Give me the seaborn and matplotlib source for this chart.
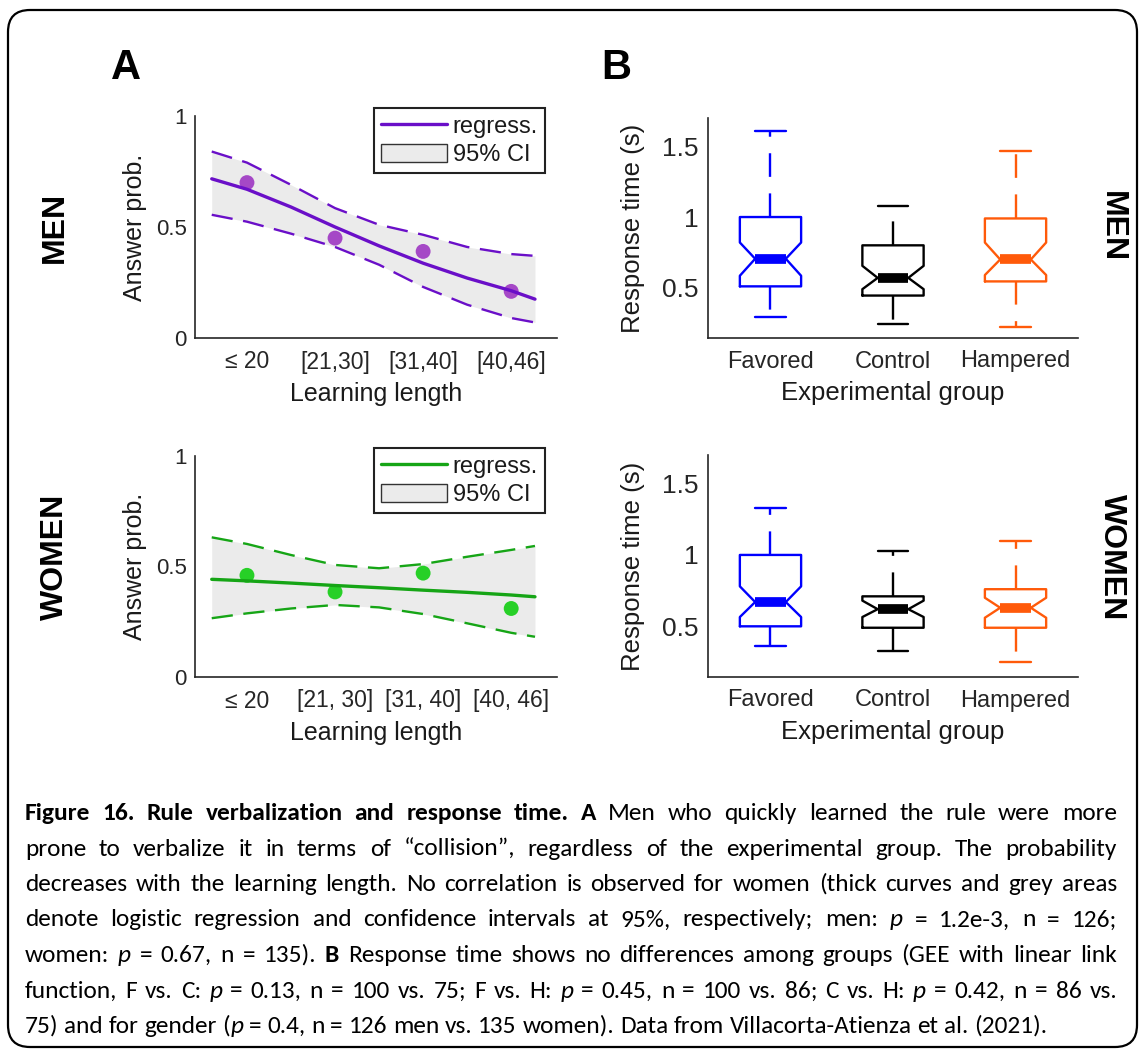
import matplotlib
matplotlib.use("Agg")
import matplotlib.pyplot as plt
import seaborn as sns
from matplotlib.lines import Line2D
from matplotlib.patches import Patch, FancyBboxPatch
from matplotlib import font_manager

# --- data ---
LENGTH_POS = [1, 2, 3, 4]
MEN_LENGTH_LABELS = ['≤ 20', '[21,30]', '[31,40]', '[40,46]']
WOMEN_LENGTH_LABELS = ['≤ 20', '[21, 30]', '[31, 40]', '[40, 46]']
MEN_PROB = [0.70, 0.45, 0.39, 0.21]
WOMEN_PROB = [0.46, 0.385, 0.47, 0.31]

CURVE_X = [0.6, 1.0, 1.5, 2.0, 2.5, 3.0, 3.5, 4.0, 4.27]
MEN_FIT = [0.717, 0.67, 0.59, 0.50, 0.415, 0.337, 0.27, 0.213, 0.175]
MEN_CI_HI = [0.84, 0.79, 0.69, 0.585, 0.51, 0.465, 0.41, 0.378, 0.37]
MEN_CI_LO = [0.555, 0.524, 0.47, 0.41, 0.33, 0.23, 0.15, 0.09, 0.07]
WOMEN_FIT = [0.442, 0.435, 0.425, 0.414, 0.404, 0.393, 0.383, 0.371, 0.363]
WOMEN_CI_HI = [0.632, 0.602, 0.552, 0.507, 0.492, 0.511, 0.544, 0.575, 0.593]
WOMEN_CI_LO = [0.266, 0.288, 0.31, 0.326, 0.315, 0.285, 0.243, 0.20, 0.182]

GROUPS = ['Favored', 'Control', 'Hampered']
MEN_RT_WHISLO = [0.29, 0.245, 0.22]
MEN_RT_Q1 = [0.51, 0.445, 0.545]
MEN_RT_CILO = [0.585, 0.49, 0.59]
MEN_RT_MED = [0.705, 0.57, 0.70]
MEN_RT_CIHI = [0.82, 0.655, 0.82]
MEN_RT_Q3 = [1.0, 0.80, 0.99]
MEN_RT_WHISHI = [1.61, 1.075, 1.47]

WOMEN_RT_WHISLO = [0.36, 0.33, 0.25]
WOMEN_RT_Q1 = [0.50, 0.49, 0.49]
WOMEN_RT_CILO = [0.565, 0.565, 0.56]
WOMEN_RT_MED = [0.67, 0.62, 0.63]
WOMEN_RT_CIHI = [0.78, 0.68, 0.70]
WOMEN_RT_Q3 = [1.0, 0.71, 0.76]
WOMEN_RT_WHISHI = [1.33, 1.03, 1.10]

CAPTION = [
    "#Figure 16. Rule verbalization and response time. A# Men who quickly learned the rule were more",
    "prone to verbalize it in terms of \u201ccollision\u201d, regardless of the experimental group. The probability",
    "decreases with the learning length. No correlation is observed for women (thick curves and grey areas",
    "denote logistic regression and confidence intervals at 95%, respectively; men: *p* = 1.2e-3, n = 126;",
    "women: *p* = 0.67, n = 135). #B# Response time shows no differences among groups (GEE with linear link",
    "function, F vs. C: *p* = 0.13, n = 100 vs. 75; F vs. H: *p* = 0.45, n = 100 vs. 86; C vs. H: *p* = 0.42, n = 86 vs.",
    "75) and for gender (*p* = 0.4, n = 126 men vs. 135 women). Data from Villacorta-Atienza et al. (2021).",
]

# --- style ---
sns.set_theme(style="white")
plt.rcParams['font.family'] = ['Liberation Sans', 'DejaVu Sans']
plt.rcParams['axes.edgecolor'] = '#262626'
plt.rcParams['axes.linewidth'] = 1.2
plt.rcParams['xtick.color'] = '#262626'
plt.rcParams['ytick.color'] = '#262626'
plt.rcParams['text.color'] = '#1a1a1a'

W, H = 1145, 1055
fig = plt.figure(figsize=(W / 100, H / 100), dpi=100)
fig.patch.set_facecolor('white')

MEN_LINE, MEN_DOT = '#6a0fc8', '#a548c6'
WOMEN_LINE, WOMEN_DOT = '#16a516', '#27d027'
CI_FILL = '#ebebeb'
BOX_COLORS = ['#0000ff', '#000000', '#ff5a0a']


def style_axes(ax):
    for s in ['top', 'right']:
        ax.spines[s].set_visible(False)
    ax.tick_params(direction='in', length=5, width=1.2)


def panel_a(ax, labels, probs, fit, hi, lo, line_c, dot_c):
    ax.fill_between(CURVE_X, lo, hi, color=CI_FILL, lw=0, zorder=1)
    sns.lineplot(x=CURVE_X, y=hi, ax=ax, color=line_c, lw=1.7,
                 linestyle=(0, (9, 4.5)), zorder=2)
    sns.lineplot(x=CURVE_X, y=lo, ax=ax, color=line_c, lw=1.7,
                 linestyle=(0, (9, 4.5)), zorder=2)
    sns.scatterplot(x=LENGTH_POS, y=probs, ax=ax, color=dot_c, s=115,
                    edgecolor='none', zorder=3)
    sns.lineplot(x=CURVE_X, y=fit, ax=ax, color=line_c, lw=2.4, zorder=4)
    ax.set_xlim(0.41, 4.52)
    ax.set_ylim(0, 1)
    ax.set_yticks([0, 0.5, 1])
    ax.set_yticklabels(['0', '0.5', '1'], fontsize=16)
    ax.set_xticks(LENGTH_POS)
    ax.set_xticklabels(labels, fontsize=16.5)
    ax.tick_params(axis='y', pad=6)
    ax.tick_params(axis='x', pad=9)
    ax.set_xlabel('Learning length', fontsize=18, labelpad=6, color='#1a1a1a')
    ax.set_ylabel('Answer prob.', fontsize=18, labelpad=6, color='#1a1a1a')
    style_axes(ax)
    handles = [Line2D([], [], color=line_c, lw=2.4),
               Patch(facecolor=CI_FILL, edgecolor='#333333', lw=1.0)]
    bb = ax.get_position()
    leg = ax.legend(handles, ['regress.', '95% CI'], loc='upper right',
                    bbox_to_anchor=(545 / W, bb.y1 + 8 / H),
                    bbox_transform=fig.transFigure, borderaxespad=0,
                    fontsize=17, handlelength=2.8, handleheight=0.85,
                    handletextpad=0.25, labelspacing=0.25, borderpad=0.3,
                    fancybox=False, framealpha=1, edgecolor='#222222')
    leg.get_frame().set_linewidth(1.5)


def panel_b(ax, whislo, q1, cilo, med, cihi, q3, whishi):
    for i, c in enumerate(BOX_COLORS):
        st = dict(med=med[i], q1=q1[i], q3=q3[i], whislo=whislo[i],
                  whishi=whishi[i], cilo=cilo[i], cihi=cihi[i], fliers=[])
        ax.bxp([st], positions=[i + 1], widths=0.5, shownotches=True,
               showfliers=False, manage_ticks=False,
               boxprops=dict(color=c, lw=1.7),
               whiskerprops=dict(color=c, lw=1.7, linestyle=(0, (10, 7))),
               capprops=dict(color=c, lw=1.7),
               medianprops=dict(color=c, lw=7, solid_capstyle='butt'))
    ax.set_xlim(0.49, 3.51)
    ax.set_ylim(0.145, 1.70)
    ax.set_yticks([0.5, 1, 1.5])
    ax.set_yticklabels(['0.5', '1', '1.5'], fontsize=19)
    ax.set_xticks([1, 2, 3])
    ax.set_xticklabels(GROUPS, fontsize=17)
    ax.tick_params(axis='y', pad=7)
    ax.tick_params(axis='x', pad=9)
    ax.set_xlabel('Experimental group', fontsize=18.5, labelpad=6, color='#1a1a1a')
    ax.set_ylabel('Response time (s)', fontsize=18.5, labelpad=12, color='#1a1a1a')
    style_axes(ax)


axA1 = fig.add_axes([195 / W, 1 - 338 / H, 362 / W, 222 / H])
axA2 = fig.add_axes([195 / W, 1 - 677 / H, 362 / W, 221 / H])
axB1 = fig.add_axes([708 / W, 1 - 338 / H, 370 / W, 220 / H])
axB2 = fig.add_axes([708 / W, 1 - 677 / H, 370 / W, 222 / H])

panel_a(axA1, MEN_LENGTH_LABELS, MEN_PROB, MEN_FIT, MEN_CI_HI, MEN_CI_LO, MEN_LINE, MEN_DOT)
panel_a(axA2, WOMEN_LENGTH_LABELS, WOMEN_PROB, WOMEN_FIT, WOMEN_CI_HI, WOMEN_CI_LO,
        WOMEN_LINE, WOMEN_DOT)
panel_b(axB1, MEN_RT_WHISLO, MEN_RT_Q1, MEN_RT_CILO, MEN_RT_MED, MEN_RT_CIHI,
        MEN_RT_Q3, MEN_RT_WHISHI)
panel_b(axB2, WOMEN_RT_WHISLO, WOMEN_RT_Q1, WOMEN_RT_CILO, WOMEN_RT_MED,
        WOMEN_RT_CIHI, WOMEN_RT_Q3, WOMEN_RT_WHISHI)

# panel letters and row labels
fig.text(126 / W, 1 - 68 / H, 'A', fontsize=30, weight='bold', color='black',
         ha='center', va='center')
fig.text(616 / W, 1 - 68 / H, 'B', fontsize=30, weight='bold', color='black',
         ha='center', va='center')
for label, yc in [('MEN', 227), ('WOMEN', 557)]:
    fig.text(55 / W, 1 - yc / H, label, fontsize=23, weight='bold', color='black',
             rotation=90, ha='center', va='center')
    fig.text(1112 / W, 1 - yc / H, label, fontsize=23, weight='bold', color='black',
             rotation=-90, ha='center', va='center')

# rounded frame
frame = FancyBboxPatch((0.08, 0.08), 11.29, 10.37,
                       boxstyle='round,pad=0,rounding_size=0.22',
                       transform=fig.dpi_scale_trans, fill=False,
                       edgecolor='black', lw=1.6)
fig.patches.append(frame)


# caption, justified word by word
def pick_font(names):
    for n in names:
        try:
            font_manager.findfont(n, fallback_to_default=False)
            return n
        except Exception:
            continue
    return 'DejaVu Sans'


CAP_FONT = [pick_font(['Carlito', 'Liberation Sans Narrow', 'Lato']), 'DejaVu Sans']
CAP_SIZE = 18.3


def parse_words(line):
    words, bold, ital = [], False, False
    for raw in line.split(' '):
        runs, buf = [], ''
        for ch in raw:
            if ch in '*#':
                if buf:
                    runs.append((buf, bold, ital))
                    buf = ''
                if ch == '*':
                    ital = not ital
                else:
                    bold = not bold
            else:
                buf += ch
        if buf:
            runs.append((buf, bold, ital))
        if runs:
            words.append(runs)
    return words


renderer = fig.canvas.get_renderer()


def run_width(text, bold, ital):
    t = fig.text(0, 0, text, fontsize=CAP_SIZE, family=CAP_FONT,
                 weight='bold' if bold else 'normal',
                 style='italic' if ital else 'normal')
    w = t.get_window_extent(renderer).width
    t.remove()
    return w


space_w = run_width('a a', False, False) - run_width('aa', False, False)
x_left, x_right = 25, 1117
for k, line in enumerate(CAPTION):
    base_y = 820 + 35.5 * k
    words = parse_words(line)
    widths = [[run_width(*r) for r in w] for w in words]
    total = sum(sum(w) for w in widths)
    if k < len(CAPTION) - 1:
        gap = max((x_right - x_left - total) / (len(words) - 1), 0.6 * space_w)
    else:
        gap = space_w
    x = x_left
    for runs, ws in zip(words, widths):
        for (txt, b, it), w in zip(runs, ws):
            fig.text(x / W, 1 - base_y / H, txt, fontsize=CAP_SIZE, family=CAP_FONT,
                     weight='bold' if b else 'normal',
                     style='italic' if it else 'normal',
                     color='black', ha='left', va='baseline')
            x += w
        x += gap

fig.savefig('out.png', dpi=100, facecolor='white')
